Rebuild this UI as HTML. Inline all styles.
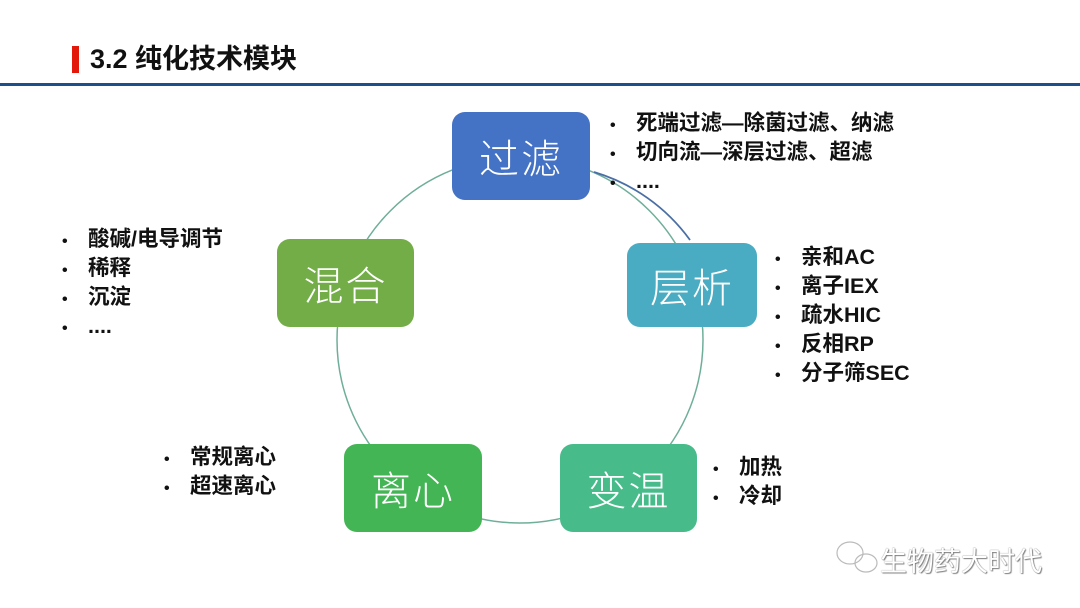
<!DOCTYPE html>
<html><head><meta charset="utf-8"><style>
body{margin:0;width:1080px;height:608px;background:#fff;position:relative;overflow:hidden;font-family:"Liberation Sans","Noto Sans CJK SC",sans-serif}
.t{position:absolute;left:90px;top:37px;font-size:27px;font-weight:bold;color:#111}
.bar{position:absolute;left:72px;top:46px;width:7px;height:27px;background:#e3180b}
.hr{position:absolute;left:0;top:83px;width:1080px;height:3px;background:#1f4e8c}
.n{position:absolute;border-radius:13px;color:#fff;font-family:"Noto Sans CJK SC",sans-serif;font-weight:300;font-size:40px;display:flex;align-items:center;justify-content:center;letter-spacing:2px}
ul{position:absolute;margin:0;padding:0;list-style:none;font-size:21.5px;font-weight:bold;color:#111;line-height:27px}
li:before{content:"•";display:inline-block;width:26px;font-size:16px}
.w{position:absolute;left:880px;top:540px;font-size:27px;color:#fff;text-shadow:0 0 1px #555,1px 1px 1px #888}
</style></head><body>
<div class="bar"></div><div class="t">3.2 纯化技术模块</div><div class="hr"></div>
<svg width="1080" height="608" style="position:absolute;left:0;top:0">
<circle cx="520" cy="340" r="183" fill="none" stroke="#6fae9a" stroke-width="1.5"/>
<path d="M594 172 A183 183 0 0 1 690 240" fill="none" stroke="#4a6fa5" stroke-width="1.8"/>
<g fill="none" stroke="#bbb" stroke-width="1.2"><ellipse cx="850" cy="553" rx="13" ry="11"/><ellipse cx="866" cy="563" rx="11" ry="9"/></g>
</svg>
<div class="n" style="left:452px;top:112px;width:138px;height:88px;background:#4472c4">过滤</div>
<div class="n" style="left:627px;top:243px;width:130px;height:84px;background:#4aacc2">层析</div>
<div class="n" style="left:560px;top:444px;width:137px;height:88px;background:#48bb8a">变温</div>
<div class="n" style="left:344px;top:444px;width:138px;height:88px;background:#44b554">离心</div>
<div class="n" style="left:277px;top:239px;width:137px;height:88px;background:#72ad48">混合</div>
<ul style="left:610px;top:110px"><li>死端过滤—除菌过滤、纳滤</li><li>切向流—深层过滤、超滤</li><li>....</li></ul>
<ul style="left:775px;top:244px"><li>亲和AC</li><li>离子IEX</li><li>疏水HIC</li><li>反相RP</li><li>分子筛SEC</li></ul>
<ul style="left:713px;top:454px"><li>加热</li><li>冷却</li></ul>
<ul style="left:164px;top:444px"><li>常规离心</li><li>超速离心</li></ul>
<ul style="left:62px;top:226px"><li>酸碱/电导调节</li><li>稀释</li><li>沉淀</li><li>....</li></ul>
<div class="w">生物药大时代</div>
</body></html>
